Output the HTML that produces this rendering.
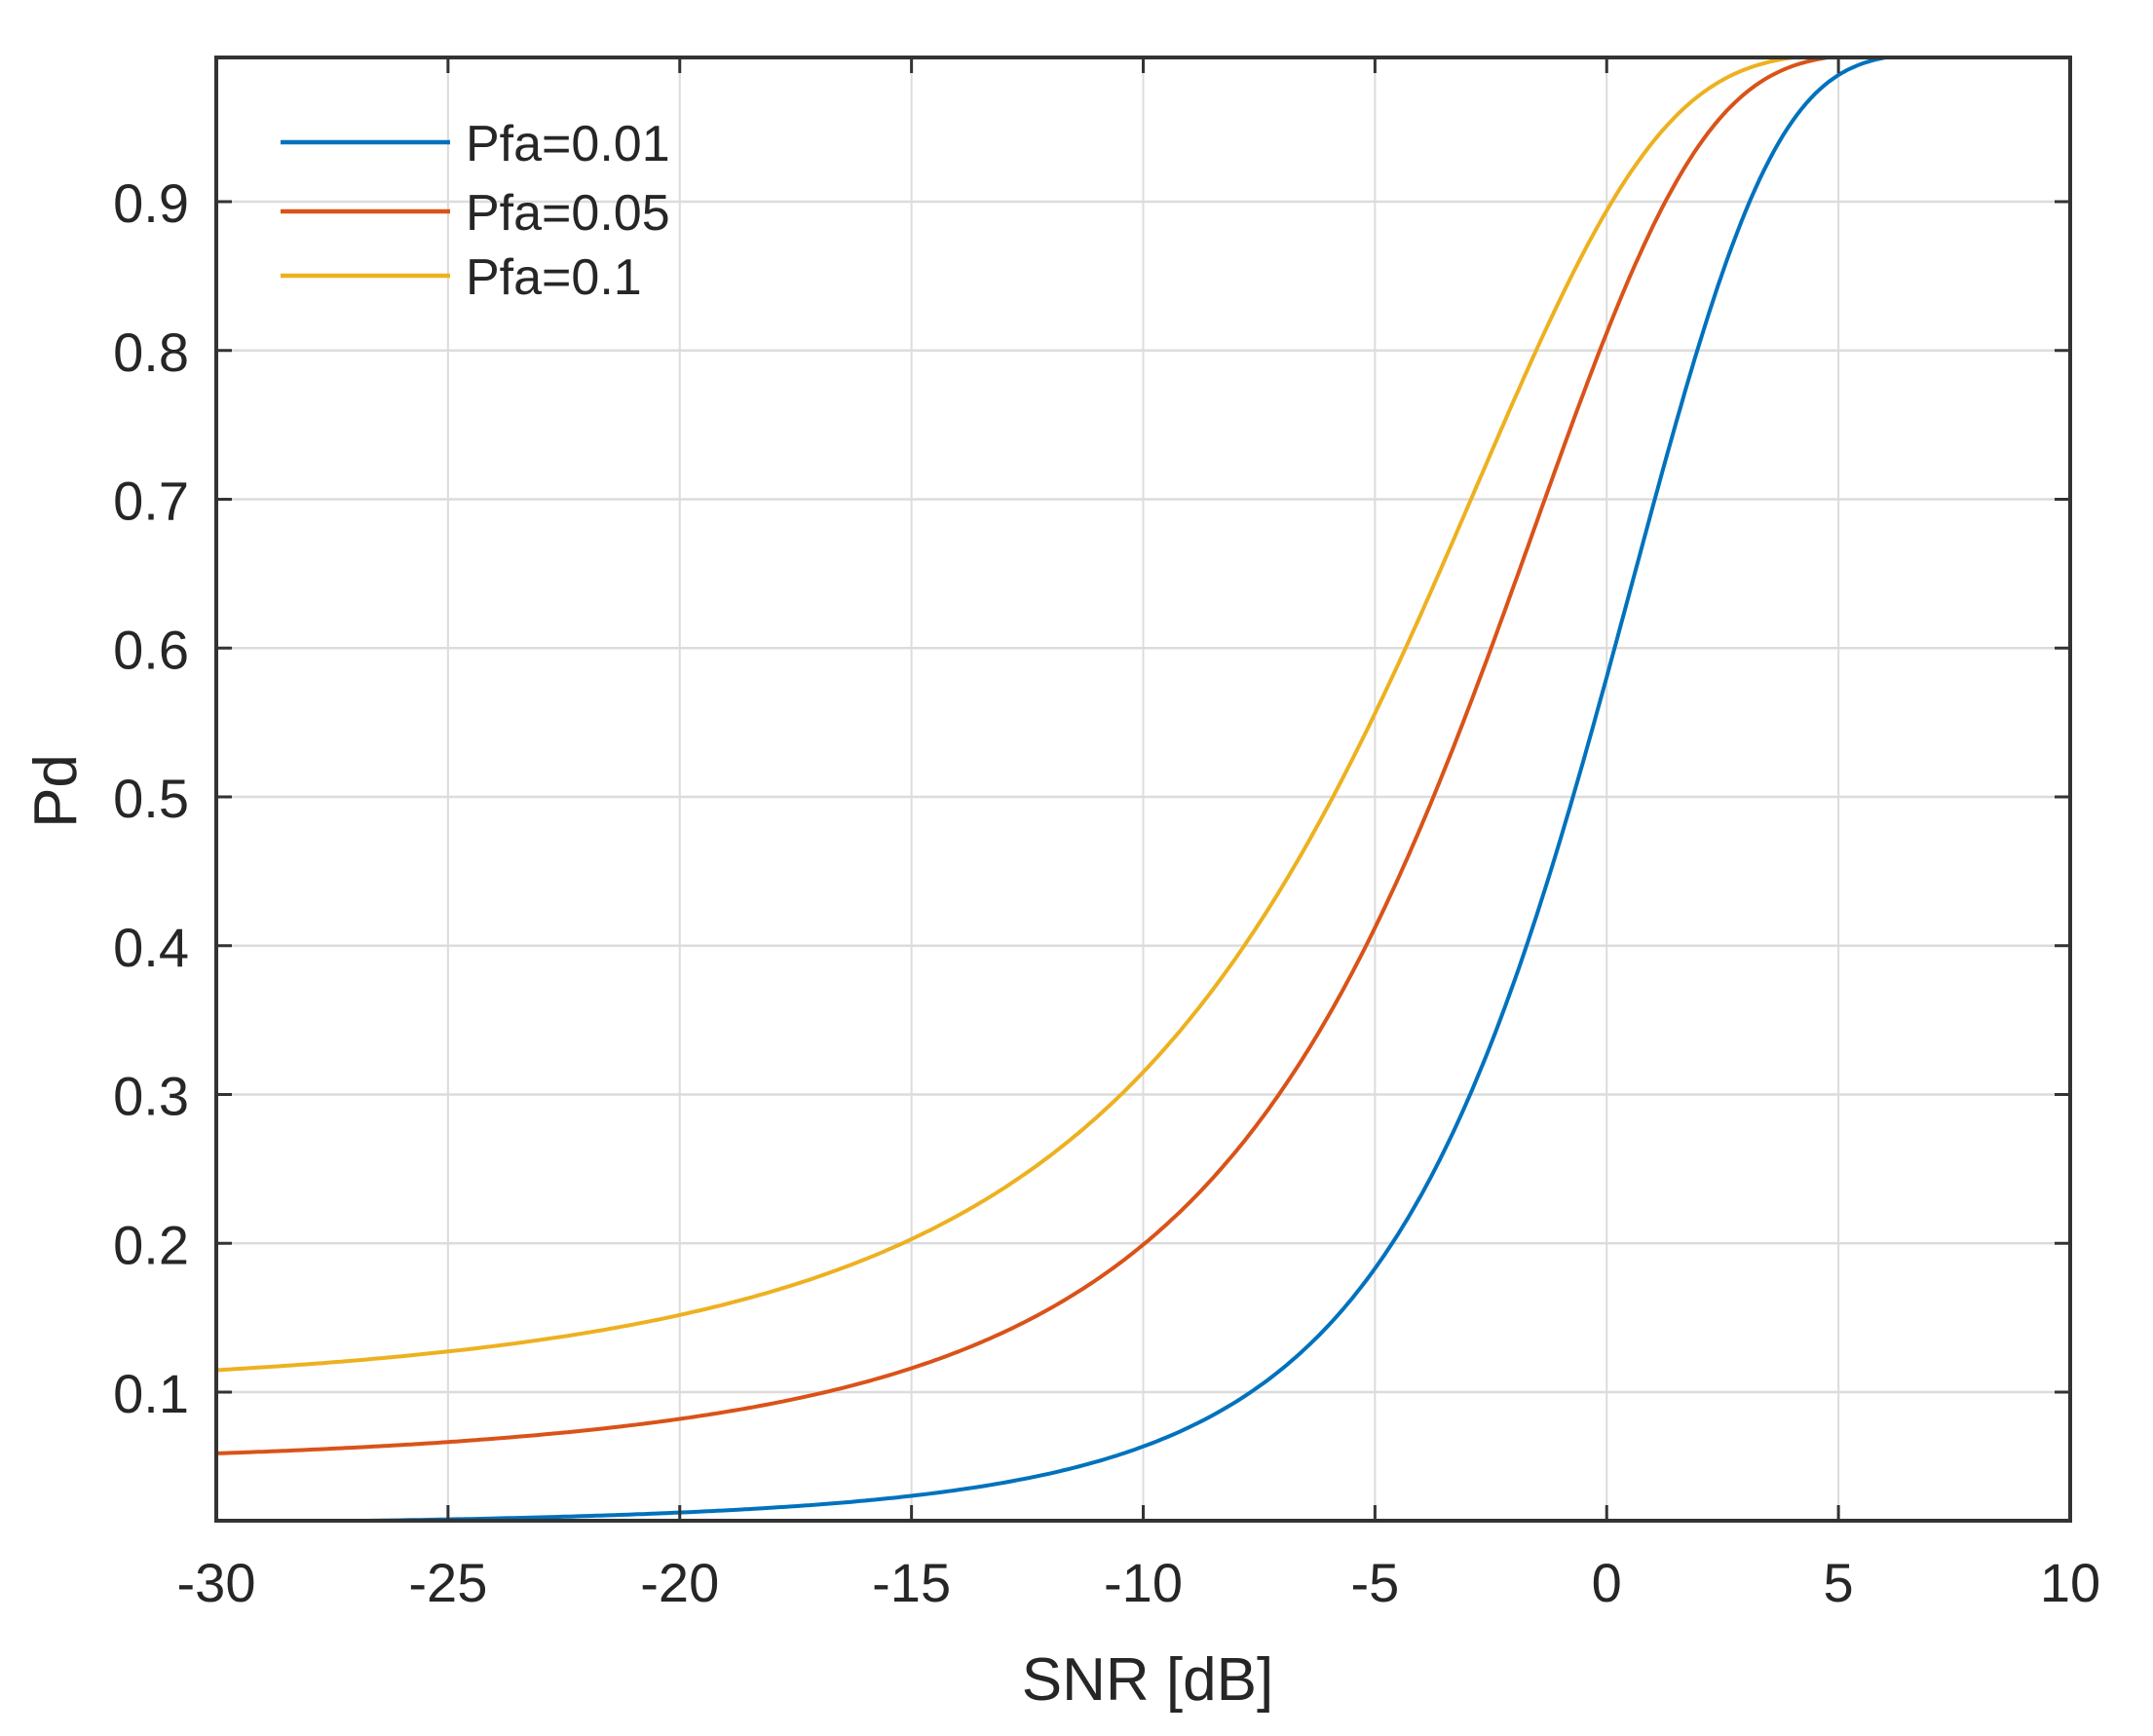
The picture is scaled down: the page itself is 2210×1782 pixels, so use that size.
<!DOCTYPE html>
<html><head><meta charset="utf-8"><style>
html,body{margin:0;padding:0;background:#fff;}
svg text{font-family:"Liberation Sans",sans-serif;fill:#262626;}
</style></head><body>
<svg id="s" width="2210" height="1777" xmlns="http://www.w3.org/2000/svg">
<rect width="2210" height="1777" fill="#fff"/>
<defs><clipPath id="c"><rect x="222" y="59" width="1903" height="1502"/></clipPath></defs>
<g id="grid"></g>
<g id="curves" clip-path="url(#c)"></g>
<rect x="222" y="59" width="1903" height="1502" fill="none" stroke="#333" stroke-width="4"/>
<g id="ticks"></g>
<g id="legend">
<line x1="288" y1="146" x2="462" y2="146" stroke="#0072BD" stroke-width="4.5"/>
<line x1="288" y1="217" x2="462" y2="217" stroke="#D95319" stroke-width="4.5"/>
<line x1="288" y1="283" x2="462" y2="283" stroke="#EDB120" stroke-width="4.5"/>
<text x="478" y="165" font-size="52">Pfa=0.01</text>
<text x="478" y="236" font-size="52">Pfa=0.05</text>
<text x="478" y="302" font-size="52">Pfa=0.1</text>
</g>
<text x="1178" y="1745" font-size="62" text-anchor="middle">SNR [dB]</text>
<text transform="translate(78,812) rotate(-90)" font-size="62" text-anchor="middle">Pd</text>
</svg>
<script>
var NS="http://www.w3.org/2000/svg";
function X(d){return 222+(d+30)*47.575;}
function Y(p){return 1429-(p-0.1)*1527.5;}
function el(t,a,parent){var e=document.createElementNS(NS,t);for(var k in a)e.setAttribute(k,a[k]);document.getElementById(parent).appendChild(e);return e;}
function erfc(x){var z=Math.abs(x),t=1/(1+0.5*z);var r=t*Math.exp(-z*z-1.26551223+t*(1.00002368+t*(0.37409196+t*(0.09678418+t*(-0.18628806+t*(0.27886807+t*(-1.13520398+t*(1.48851587+t*(-0.82215223+t*0.17087277)))))))));return x>=0?r:2-r;}
function Q(x){return 0.5*erfc(x/Math.SQRT2);}
function Qinv(p){var lo=-10,hi=10;for(var i=0;i<100;i++){var m=(lo+hi)/2;if(Q(m)>p)lo=m;else hi=m;}return (lo+hi)/2;}
for(var d=-25;d<=5;d+=5){el("line",{x1:X(d),y1:59,x2:X(d),y2:1561,stroke:"#dcdcdc","stroke-width":2},"grid");}
for(var i=1;i<=9;i++){var p=i/10;el("line",{x1:222,y1:Y(p),x2:2125,y2:Y(p),stroke:"#dcdcdc","stroke-width":2.5},"grid");}
for(var d=-30;d<=10;d+=5){var x=X(d);
 if(d>-30&&d<10){el("line",{x1:x,y1:1561,x2:x,y2:1545,stroke:"#333","stroke-width":3},"ticks");el("line",{x1:x,y1:59,x2:x,y2:75,stroke:"#333","stroke-width":3},"ticks");}
 var t=el("text",{x:x,y:1644,"font-size":56,"text-anchor":"middle"},"ticks");t.textContent=String(d);}
for(var i=1;i<=9;i++){var p=i/10,y=Y(p);
 el("line",{x1:222,y1:y,x2:238,y2:y,stroke:"#333","stroke-width":3},"ticks");
 el("line",{x1:2125,y1:y,x2:2109,y2:y,stroke:"#333","stroke-width":3},"ticks");
 var t=el("text",{x:194,y:y+21,"font-size":56,"text-anchor":"end"},"ticks");t.textContent="0."+i;}
var pf=[0.01,0.05,0.1],cols=["#0072BD","#D95319","#EDB120"];
for(var k=0;k<3;k++){var q=Qinv(pf[k]),pts=[];
 for(var d=-30;d<=10.001;d+=0.1){var s=Math.pow(10,d/10);var pd=Q(q-Math.sqrt(6.4*s));pts.push(X(d).toFixed(1)+","+Y(pd).toFixed(1));}
 el("polyline",{points:pts.join(" "),fill:"none",stroke:cols[k],"stroke-width":4},"curves");}
</script>
</body></html>
